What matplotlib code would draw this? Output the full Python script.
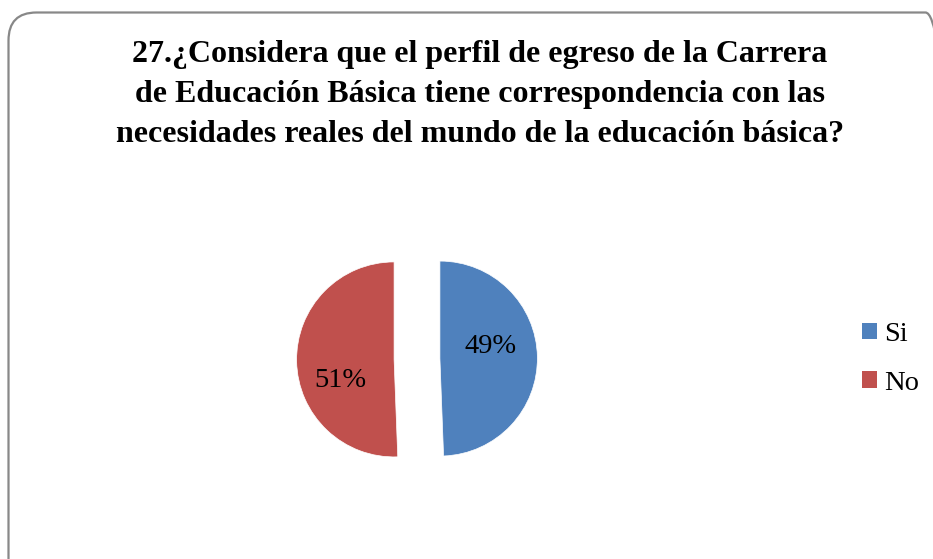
import matplotlib
matplotlib.use("Agg")
import matplotlib.pyplot as plt
from matplotlib.patches import FancyBboxPatch, Patch

categories = ["Si", "No"]
values = [49.4, 50.6]
colors = ["#4F81BD", "#C0504D"]
title = ("27.¿Considera que el perfil de egreso de la Carrera\n"
         "de Educación Básica tiene correspondencia con las\n"
         "necesidades reales del mundo de la educación básica?")

W, H = 933, 559
fig = plt.figure(figsize=(W / 100, H / 100), dpi=100)
fig.patch.set_facecolor("white")

# rounded frame (pixel coordinates)
frame = FancyBboxPatch((8.5, -40), 945, H - 12.5 + 40,
                       boxstyle="round,pad=0,rounding_size=28",
                       transform=None, facecolor="none",
                       edgecolor="#888888", linewidth=1.6)
fig.add_artist(frame)

serif = ["Liberation Serif", "DejaVu Serif"]
fig.text(480 / W, 1 - 40 / H, title, ha="center", va="top",
         fontsize=23, fontweight="bold", family=serif, linespacing=1.49)

# pie axes
cx, cy, R = 417, 359, 97.5
half = 160
ax = fig.add_axes([(cx - half) / W, 1 - (cy + half) / H, 2 * half / W, 2 * half / H])
wedges, texts, autotexts = ax.pie(values, colors=colors, startangle=90,
                                  counterclock=False,
                                  explode=[0.235, 0.235],
                                  autopct="%.0f%%", pctdistance=0.55,
                                  wedgeprops=dict(edgecolor="white", linewidth=0.5),
                                  textprops=dict(fontsize=20.5, family=serif))
ax.set_xlim(-half / R, half / R)
ax.set_ylim(-half / R, half / R)
ax.set_aspect("equal")
ax.axis("off")
label_pos = [(0.75, 0.13), (-0.79, -0.22)]
for t, p in zip(autotexts, label_pos):
    t.set_position(p)

handles = [Patch(facecolor=c, edgecolor="none") for c in colors]
fig.legend(handles, categories, loc="center left",
           bbox_to_anchor=(862 / W, 1 - 359 / H), frameon=False,
           borderpad=0, borderaxespad=0,
           prop=dict(family=serif, size=20.5), handlelength=0.53,
           handleheight=0.53, handletextpad=0.25, labelspacing=0.84)

fig.savefig("out.png", dpi=100)
